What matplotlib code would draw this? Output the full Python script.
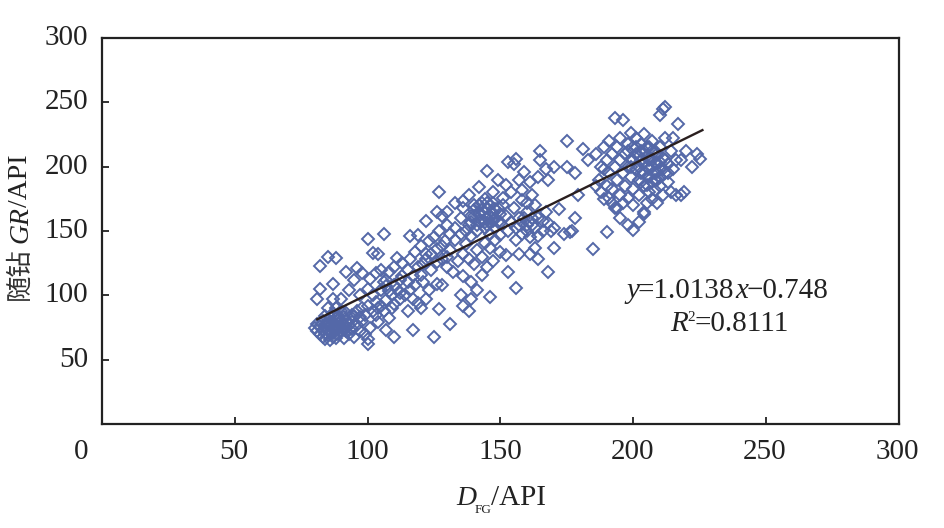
import matplotlib
matplotlib.use("Agg")
import matplotlib.pyplot as plt

low_dense = [(80,75),(81,72),(81,78),(82,70),(82,76),(83,68),(83,73),(83,80),(84,66),(84,71),(84,77),(84,84),(85,69),(85,74),(85,80),
(86,65),(86,72),(86,76),(86,83),(87,68),(87,71),(87,75),(87,79),(87,86),(88,67),(88,73),(88,77),(88,82),(89,70),(89,74),(89,78),(89,84),
(90,72),(90,76),(90,80),(90,88),(91,67),(91,73),(91,78),(91,83),(92,75),(92,80),(92,86),(93,70),(93,77),(93,82),(94,74),(94,79),(95,84),(95,68),
(96,77),(97,72),(98,80),(98,90),(99,70),(100,66),(100,62),(101,75),(103,85),(85,78),(86,79),(88,75),(89,81),(91,76),(92,72),(94,85),(96,88),(97,83),(99,85),(100,92),(102,88),(104,90)]
low_upper = [(82,123),(85,130),(88,129),(82,105),(81,97),(87,109),(88,90),(92,118),(96,121),(95,112),(97,100),(93,104),(90,97),(87,97),(98,117),(85,90),
(100,144),(106,148),(102,133),(104,132),(101,113),(103,117),(105,120),(107,112),(108,118),(100,105),(102,100),(105,104),(107,107),(109,100),(103,95),(105,92),(107,96),
(110,93),(112,97),(106,88),(108,82),(104,79),(107,73),(110,68),(109,90),(111,105),(112,112),(111,129),(113,125),(115,120),(116,128),(114,100),(116,104),(118,108),(117,97),(119,94),(115,88),(120,90),(122,97),(117,73),(125,68),(131,78),(127,89),(121,110),(123,104),(126,109),(128,108),
(116,146),(119,147),(118,134),(120,138),(122,132),(121,124),(124,120),(126,126),(123,142),(125,145),(122,158),(126,165),(127,180),(128,162),(130,155),
(108,103),(110,108),(112,102),(113,115),(115,110),(117,115),(119,122),(120,116),(122,128),(124,132),(126,136),(128,138),(130,130),(110,122),(106,110)]
mid_scatter = [(127,150),(129,142),(131,135),(128,128),(130,122),(132,118),(134,127),(136,132),(133,143),(135,148),(137,140),(138,128),(140,124),(136,115),(139,110),(135,100),(136,92),(139,97),(141,104),(138,88),
(146,99),(143,116),(145,122),(141,135),(143,130),(146,137),(148,143),(150,134),(147,127),(152,131),(153,118),(156,106),(157,132),(161,132),(163,137),(164,128),(168,118),(170,137),(174,148),(176,149),
(130,165),(133,172),(135,160),(136,168),(138,155),(139,162),(140,170),(141,150),(142,158),(143,166),(144,175),(144,152),(145,160),(145,168),(146,148),(146,156),(147,164),(147,172),(148,152),(148,160),
(149,168),(150,147),(150,156),(151,176),(152,162),(152,186),(153,150),(154,157),(154,180),(155,168),(155,202),(156,143),(156,152),(157,190),(157,160),(158,174),(158,148),(159,196),(160,165),(160,155),
(161,188),(161,145),(162,178),(162,160),(163,152),(163,170),(164,146),(164,192),(165,205),(165,212),(166,158),(166,150),(167,165),(167,198),(168,156),(168,190),(169,150),(170,200),(170,152),(172,167),
(175,220),(175,200),(178,160),(177,150),(179,178),(181,214),(183,205),(185,136),(178,195),
(136,173),(138,178),(140,162),(142,184),(145,197),(147,180),(149,190),(151,170),(153,204),(156,206),(158,182),(160,172),(137,150),(139,146),(133,152),(131,148),(144,141),(150,163),
(141,155),(142,163),(142,170),(143,158),(143,172),(144,157),(144,164),(145,155),(145,172),(146,162),(146,170),(147,158),(148,167),(149,157),(139,157),(140,166),(161,158),(159,160),(162,155),(160,150),(164,160),(157,155)]
high_dense = [(186,210),(187,190),(188,180),(188,200),(189,215),(189,175),(190,205),(190,185),(190,149),(191,195),(191,220),(192,172),(192,210),(192,183),(193,238),(193,200),(194,168),(194,190),(194,215),(195,205),
(195,178),(195,222),(196,172),(196,236),(196,195),(197,185),(197,210),(198,200),(198,218),(198,176),(199,192),(199,226),(199,206),(200,183),(200,170),(200,215),(200,151),(201,198),(201,222),(201,210),
(202,190),(202,157),(202,178),(203,205),(203,218),(203,195),(204,185),(204,212),(204,165),(204,225),(205,200),(205,172),(205,208),(205,192),(206,215),(206,180),(206,198),(207,188),(207,220),(207,205),
(207,175),(208,195),(208,212),(208,182),(209,203),(209,190),(209,172),(210,198),(210,240),(210,215),(210,185),(211,245),(211,207),(211,178),(212,246),(212,195),(212,222),(213,202),(213,188),(214,212),
(214,180),(215,198),(215,222),(216,178),(216,205),(217,233),(218,205),(218,178),(219,180),(220,212),(222,200),(224,210),(225,206),(195,160),(198,155),(204,163),(191,176),(193,168),(186,185),(189,198),
(200,205),(201,215),(202,208),(202,200),(203,212),(204,204),(204,195),(205,215),(206,205),(206,192),(207,200),(207,212),(208,190),(208,203),(209,196),(209,210),(210,192),(210,204),(211,198),(212,205),(213,195),(203,188),(205,186),(198,212),(199,200)]

fit_x = [81, 226]
fit_y = [81.4, 228.4]
ticks = [0, 50, 100, 150, 200, 250, 300]
y_ticks = [50, 100, 150, 200, 250, 300]
points = low_dense + low_upper + mid_scatter + high_dense
dfg = [p[0] for p in points]
gr = [p[1] for p in points]

SERIF = "Liberation Serif"
CJK = "Noto Sans CJK SC"
W, H = 945, 528
fig = plt.figure(figsize=(W/100, H/100), dpi=100)
ax = fig.add_axes([102/W, 1-424/H, 797/W, 386/H])
ax.plot(dfg, gr, ls="none", marker="D", ms=6.3, mfc="none", mec="#5468a8", mew=1.4, zorder=2)
ax.plot(fit_x, fit_y, color="#2a1f1f", lw=1.7, zorder=3)
ax.set_xlim(0, 300); ax.set_ylim(0, 300)
ax.set_xticks(ticks); ax.set_yticks(y_ticks)
ax.set_xticklabels([])
ax.set_yticklabels([])
ax.tick_params(direction="in", length=5, width=1.3, color="#222222")
for s in ax.spines.values():
    s.set_linewidth(1.6); s.set_color("#222222")

def T(px, py, s, size=21, **kw):
    kw.setdefault("family", SERIF); kw.setdefault("color", "#222222")
    return fig.text(px/W, 1-py/H, s, fontsize=size, **kw)

for v, px in zip(ticks, [81, 234, 367, 500, 632, 765, 897]):
    T(px, 452, str(v), ha="center", va="center")
for v in y_ticks:
    T(88, 424-v*386/300, str(v), ha="right", va="center")

# y label, bottom to top
T(33, 300, "随钻", size=19, family=CJK, rotation=90, ha="right", va="bottom", color="#333333")
T(33, 243, "GR", size=20, style="italic", rotation=90, ha="right", va="bottom")
T(33, 207, "/API", size=20, rotation=90, ha="right", va="bottom")
# x label
T(456, 505, "D", size=20, style="italic", ha="left", va="baseline")
T(475, 513, "FG", size=9.5, ha="left", va="baseline")
T(491, 505, "/API", size=21, ha="left", va="baseline")
# equation
T(626, 298, "y", style="italic", ha="left", va="baseline")
T(638, 298, "=1.0138", ha="left", va="baseline")
T(735, 298, "x", style="italic", ha="left", va="baseline")
T(747, 298, "\u22120.748", ha="left", va="baseline")
T(670, 331, "R", style="italic", ha="left", va="baseline")
T(687, 321, "2", size=11, ha="left", va="baseline")
T(695, 331, "=0.8111", ha="left", va="baseline")

fig.savefig("out.png", dpi=100)
